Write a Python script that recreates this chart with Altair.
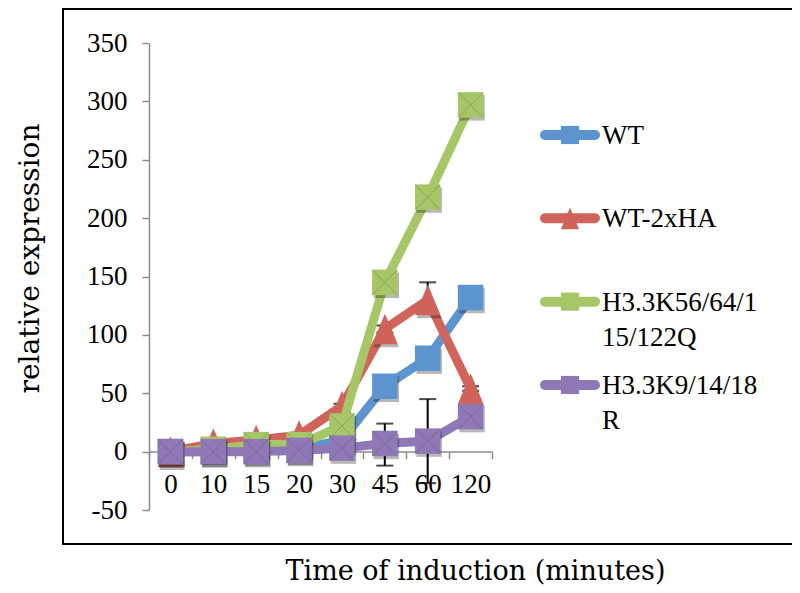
import altair as alt
import pandas as pd

# ---- data ----
times = ["0", "10", "15", "20", "30", "45", "60", "120"]
series_names = ["WT", "WT-2xHA", "H3.3K56/64/115/122Q", "H3.3K9/14/18R"]
legend_labels = ["WT", "WT-2xHA", "H3.3K56/64/1\n15/122Q", "H3.3K9/14/18\nR"]
wt = [0, 0, 1, 2, 10, 56, 80, 132]
wt_2xha = [0, 7, 10, 14, 39, 105, 130, 54]
k56q = [0, 2, 6, 6, 22, 145, 218, 297]
k9r = [0, 0, 0, 1, 3, 7, 9, 30]

err_series = ["WT-2xHA", "WT-2xHA", "WT-2xHA", "WT-2xHA", "H3.3K9/14/18R", "H3.3K9/14/18R"]
err_time = ["30", "45", "60", "120", "45", "60"]
err_low = [36, 102, 120, 52, -12, -27]
err_high = [41, 108, 145, 56, 24, 45]

colors = ["#5B94CF", "#D0645A", "#A7C667", "#8E78B6"]
tri = "M0,-1.2L-1,1.2L1,1.2Z"
shapes = ["square", tri, "square", "square"]
y_ticks = [-50, 0, 50, 100, 150, 200, 250, 300, 350]

# ---- tables ----
values = [wt, wt_2xha, k56q, k9r]
rows = []
for name, vals in zip(series_names, values):
    for t, v in zip(times, vals):
        rows.append({"series": name, "time": t, "value": v})
df = pd.DataFrame(rows)
err_df = pd.DataFrame({"series": err_series, "time": err_time, "lo": err_low, "hi": err_high})
leg_df = pd.DataFrame({"series": series_names, "label": legend_labels, "idx": list(range(len(series_names)))})

serif = "Liberation Serif"
title_font = "DejaVu Serif"

color_enc = alt.Color("series:N", scale=alt.Scale(domain=series_names, range=colors), legend=None)
shape_enc = alt.Shape("series:N", scale=alt.Scale(domain=series_names, range=shapes), legend=None)
x_scale = alt.Scale(type="band", domain=times, paddingInner=0, paddingOuter=0)
y_scale = alt.Scale(domain=[-50, 350], nice=False, zero=False)

x_axis = alt.Axis(
    tickBand="extent", offset=-58.4, labelAngle=0,
    domainColor="#8c8c8c", domainWidth=1.5, tickColor="#8c8c8c", tickWidth=1.5, tickSize=7,
    labelFont=serif, labelFontSize=27, labelColor="black", labelPadding=13,
    title="Time of induction (minutes)", titleFont=title_font, titleFontSize=27,
    titleFontWeight="normal", titleColor="black", titleX=326, titleY=128,
    titleAlign="center", titleBaseline="alphabetic",
)
y_axis = alt.Axis(
    values=y_ticks, grid=False, labelExpr="'' + datum.value",
    domainColor="#8c8c8c", domainWidth=1.5, tickColor="#8c8c8c", tickWidth=1.5, tickSize=7,
    labelFont=serif, labelFontSize=27, labelColor="black", labelPadding=15,
    title="relative expression", titleFont=title_font, titleFontSize=28,
    titleFontWeight="normal", titleColor="black", titleX=-119, titleY=215,
    titleAngle=270, titleAlign="center", titleBaseline="middle",
)

X = alt.X("time:N", sort=times, scale=x_scale, bandPosition=0.5, axis=x_axis)
Y = alt.Y("value:Q", scale=y_scale, axis=y_axis)
Ylo = alt.Y("lo:Q", scale=y_scale, axis=y_axis)
Yhi = alt.Y("hi:Q", scale=y_scale, axis=y_axis)

# outer frame
frame = alt.Chart(leg_df).mark_rect(fill="transparent", stroke="black", strokeWidth=2).encode(
    x=alt.value(-86), x2=alt.value(700), y=alt.value(-34), y2=alt.value(501)
).transform_filter(alt.datum.idx == 0)

# error bars
err_rule = alt.Chart(err_df).mark_rule(color="black", strokeWidth=2).encode(
    x=X, y=Ylo, y2="hi:Q")
err_lo = alt.Chart(err_df).mark_tick(color="black", thickness=2, size=17).encode(x=X, y=Ylo)
err_hi = alt.Chart(err_df).mark_tick(color="black", thickness=2, size=17).encode(x=X, y=Yhi)

layers = [err_rule, err_lo, err_hi]
for i, name in enumerate(series_names):
    base = alt.Chart(df).transform_filter(alt.datum.series == name)
    line = base.mark_line(strokeWidth=9, strokeJoin="round").encode(x=X, y=Y, color=color_enc)
    shadow = base.mark_point(filled=True, size=650, color="black", opacity=0.28, strokeWidth=0,
                             xOffset=1.5, yOffset=3).encode(x=X, y=Y, shape=shape_enc)
    pts = base.mark_point(filled=True, size=650, opacity=1, strokeWidth=0).encode(
        x=X, y=Y, color=color_enc, shape=shape_enc)
    layers += [line, shadow, pts]
    if i >= 2:
        cross = base.mark_point(shape="M-1,-1L1,1M-1,1L1,-1", filled=False, size=600,
                                strokeWidth=1, color="#444444", opacity=0.25).encode(x=X, y=Y)
        layers.append(cross)

main = alt.layer(*layers)

# legend
LY = alt.Y("idx:Q", scale=alt.Scale(domain=[0, 3], range=[92, 342]), axis=None)
leg_line = alt.Chart(leg_df).mark_rule(strokeWidth=10, strokeCap="round").encode(
    x=alt.value(396), x2=alt.value(446), y=LY, color=color_enc)
leg_pt = alt.Chart(leg_df).mark_point(filled=True, size=330, opacity=1, strokeWidth=0).encode(
    x=alt.value(421), y=LY, color=color_enc, shape=shape_enc)
leg_txt = alt.Chart(leg_df).mark_text(align="left", baseline="alphabetic", dy=9, lineBreak="\n",
                                      lineHeight=35, font=serif, fontSize=27, color="black").encode(
    x=alt.value(453), y=LY, text="label:N")
legend = alt.layer(frame, leg_line, leg_pt, leg_txt)

chart = alt.layer(main, legend).resolve_scale(y="independent").properties(
    width=343, height=467,
    autosize=alt.AutoSizeParams(type="none"),
    padding={"left": 141, "top": 35, "right": 300, "bottom": 75},
).configure_view(stroke=None)

chart.save("out.html", embed_options={"renderer": "svg", "actions": False})
